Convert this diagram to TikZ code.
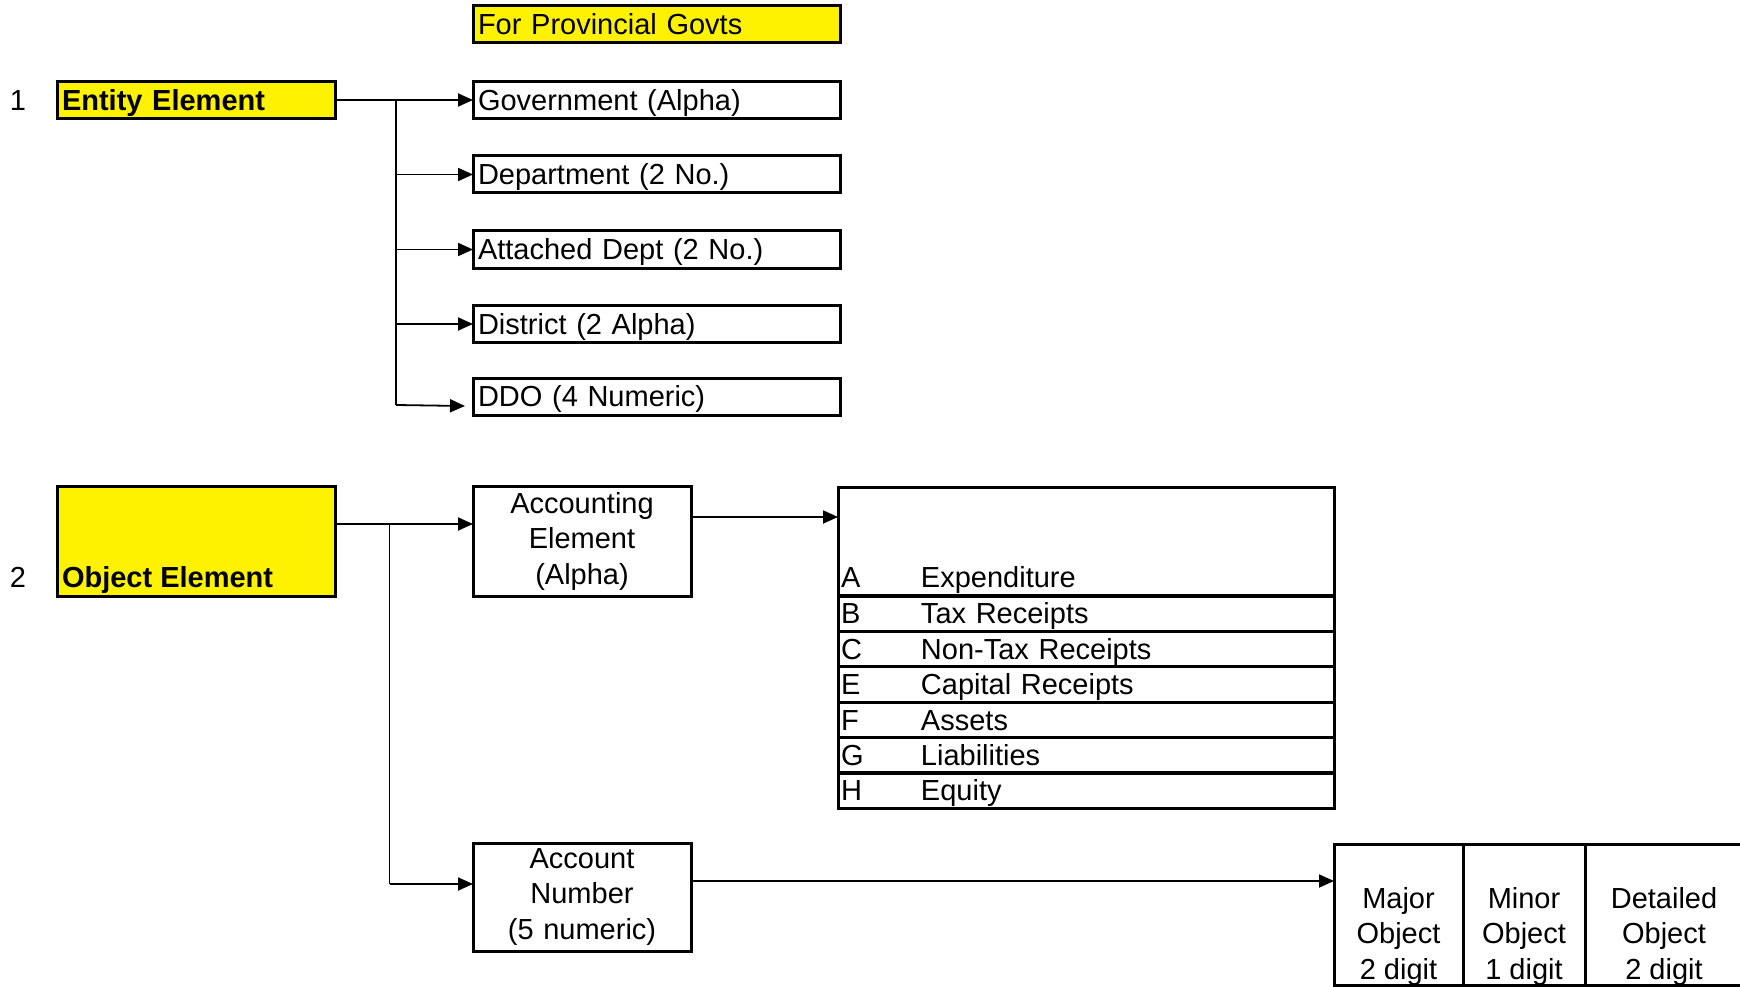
\documentclass[tikz,border=0pt]{standalone}
\usepackage{fontspec}
\setmainfont{Liberation Sans}
\usetikzlibrary{positioning,arrows.meta}

\newcommand{\bigtxt}{\fontsize{29}{35.5}\selectfont}
\newcommand{\acode}[2]{\makebox[80pt][l]{#1}#2}

\begin{document}
\begin{tikzpicture}
  [x=1pt,y=-1pt,
   every node/.style={font=\bigtxt,inner sep=0pt,outer sep=0pt},
   box/.style={draw,line width=3pt,rectangle},
   ybox/.style={box,fill=yellow},
   midtxt/.style={text height=20.9pt,text depth=0pt},
   lbox/.style={box,midtxt,minimum height=37pt,inner xsep=5pt,text width=#1,align=left},
   rowtxt/.style={midtxt,inner xsep=3pt,text width=490pt,align=left},
   row/.style={rowtxt,box,minimum height=35.4pt},
   conn/.style={line width=1.8pt},
   arr/.style={conn,-{Triangle[length=15pt,width=13pt]}}]

  \clip (0,0) rectangle (1740,987);

  % entity element
  \node[ybox,lbox=357pt] (prov) at (656.5,24.5) {For Provincial Govts};
  \node (n1) [midtxt] at (18,100) {1};
  \node[ybox,lbox=268pt,font=\bigtxt\bfseries] (ent) at (196,100) {Entity Element};
  \node[box,lbox=357pt] (gov) at (656.5,100) {Government (Alpha)};
  \node[box,lbox=357pt] (dep) at (656.5,174.5) {Department (2 No.)};
  \node[box,lbox=357pt] (att) at (656.5,249.5) {Attached Dept (2 No.)};
  \node[box,lbox=357pt] (dis) at (656.5,324) {District (2 Alpha)};
  \node[box,lbox=357pt] (ddo) at (656.5,396.5) {DDO (4 Numeric)};

  \coordinate (t1) at (396,100);
  \coordinate (t5) at (396,405);
  \draw[arr] (ent) -- (gov);
  \draw[conn] (t1) -- (t5);
  \draw[arr] (t1 |- dep) -- (dep);
  \draw[arr] (t1 |- att) -- (att);
  \draw[arr] (t1 |- dis) -- (dis);
  \draw[arr] (t5) -- ([xshift=-8pt,yshift=9pt]ddo.south west);

  % object element
  \node (n2) [midtxt] at (18,577) {2};
  \node[ybox,minimum width=278pt,minimum height=110pt] (obj) at (196,541) {};
  \node[midtxt,anchor=west,font=\bigtxt\bfseries] (objtxt) at (62,577) {Object Element};
  \node[box,minimum width=218pt,minimum height=110pt,text width=208pt,align=center] (acc) at (582,541) {Accounting\\Element\\(Alpha)};
  \node[box,minimum width=218pt,minimum height=108pt,text width=208pt,align=center] (anum) at (582,897) {Account\\Number\\(5 numeric)};

  % accounting elements
  \node[box,minimum width=496pt,minimum height=109pt] (cls) at (1086,541.5) {};
  \node[rowtxt] (ra) at (1086,577) {\acode{A}{Expenditure}};
  \node[row] (rb) at (1086,613.5) {\acode{B}{Tax Receipts}};
  \node[row] (rc) at (1086,649) {\acode{C}{Non-Tax Receipts}};
  \node[row] (re) at (1086,684.5) {\acode{E}{Capital Receipts}};
  \node[row] (rf) at (1086,720) {\acode{F}{Assets}};
  \node[row] (rg) at (1086,755.5) {\acode{G}{Liabilities}};
  \node[row] (rh) at (1086,790.5) {\acode{H}{Equity}};

  % account number parts
  \node[box,minimum width=129pt,minimum height=141pt] (maj) at (1398.5,914.5) {};
  \node[box,minimum width=122pt,minimum height=141pt] (mnr) at (1524,914.5) {};
  \node[box,minimum width=160pt,minimum height=141pt] (det) at (1665,914.5) {};
  \node[align=center] (majt) at (1398.5,936) {Major\\Object\\2 digit};
  \node[align=center] (mnrt) at (1524,936) {Minor\\Object\\1 digit};
  \node[align=center] (dett) at (1664,936) {Detailed\\Object\\2 digit};

  \coordinate (t6) at (389.5,524);
  \coordinate (t7) at (389.5,884);
  \coordinate (a1) at ([yshift=16pt]anum.east);
  \draw[arr] (obj.east |- t6) -- (acc.west |- t6);
  \draw[conn] (t6) -- (t7);
  \draw[arr] (t7) -- (anum.west |- t7);
  \draw[arr] ([yshift=24pt]acc.east) -- ([yshift=24.5pt]cls.west);
  \draw[arr] (a1) -- (a1 -| maj.west);
\end{tikzpicture}
\end{document}
